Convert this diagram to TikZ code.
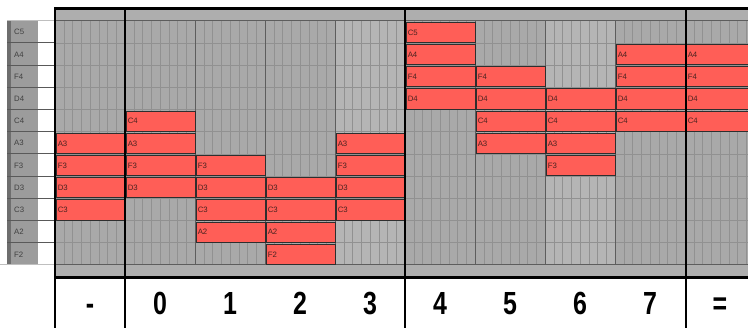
\documentclass[tikz,border=0pt]{standalone}
\usepackage{fontspec}
\setmainfont{Liberation Sans}
\newfontfamily\numfont[FakeStretch=0.78]{Liberation Sans}
\usetikzlibrary{positioning}
\definecolor{noteRed}{HTML}{FF5E57}
\definecolor{noteText}{HTML}{4A2320}
\definecolor{laneDark}{HTML}{A9A9A9}
\definecolor{laneLight}{HTML}{B5B5B5}
\definecolor{stripGray}{HTML}{AEAEAE}
\definecolor{keyGray}{HTML}{9C9C9C}
\definecolor{keyDark}{HTML}{6E6E6E}
\newcommand\notename[1]{\ifcase#1 C5\or A4\or F4\or D4\or C4\or A3\or F3\or D3\or C3\or A2\or F2\fi}

\begin{document}
\begin{tikzpicture}[x=1pt,y=-1pt,font=\fontsize{7.8}{8}\selectfont,
  note/.style={draw=black!82,line width=.9pt,fill=noteRed,text=noteText,anchor=north west,
    minimum width=69pt,minimum height=20.3pt,inner xsep=1.5pt,inner ysep=0pt,text width=66pt,align=left},
  keylabel/.style={anchor=west,inner sep=0pt,text=black!75},
  digit/.style={anchor=base,inner sep=0pt,font=\numfont\bfseries\fontsize{32}{32}\selectfont},
  subline/.style={black!14!laneDark,line width=.5pt},
  rowline/.style={black!14!laneDark,line width=.7pt},
  barline/.style={black!45!laneDark,line width=.8pt},
  rule/.style={black,line width=2.6pt}]
\useasboundingbox[fill=white] (0,0) rectangle (748,328);
% lanes and grid
\foreach \c/\bg in {0/laneDark,1/laneDark,2/laneDark,3/laneDark,4/laneLight,5/laneDark,6/laneDark,7/laneLight,8/laneDark,9/laneDark}{
\fill[\bg] (55+70*\c,20.7) rectangle ++(70,244.2);
\foreach \s in {1,...,7}
  \draw[subline] (55+70*\c+8.75*\s,20.7) -- ++(0,244.2);
}
\foreach \r in {1,...,10}
  \draw[rowline] (55,20.7+22.2*\r) -- (748,20.7+22.2*\r);
\foreach \c in {2,3,4,6,7,8}
  \draw[barline] (55+70*\c,20.7) -- ++(0,244.2);
% header and footer strips
\fill[stripGray] (55,8.5) rectangle (748,20.7);
\draw[barline] (55,20.7) -- (748,20.7);
\fill[stripGray] (55,264.9) rectangle (748,277.5);
\draw[barline] (55,264.9) -- (748,264.9);
% chords: column / top row
\foreach \c/\t in {0/5,1/4,2/6,3/7,4/5,5/0,6/2,7/3,8/1,9/1}
  \foreach \k in {0,...,3}{
    \pgfmathtruncatemacro\r{\t+\k}
    \node[note] (n\c-\r) at (55.8+70*\c,20.7+22.2*\r+1.1) {\notename{\r}};
  }
% keys
\fill[keyDark] (7,20.7) rectangle (11,264.9);
\fill[keyGray] (11,20.7) rectangle (38,264.9);
\draw[black!25,line width=.8pt] (7,20.7) -- (55,20.7);
\draw[black!25,line width=.8pt] (0,264.9) -- (55,264.9);
\foreach \r in {1,...,10}
  \draw[black!65,line width=.8pt] (7,20.7+22.2*\r) -- (55,20.7+22.2*\r);
\foreach \r in {0,...,10}
  \node[keylabel] (k\r) at (14,20.7+22.2*\r+11.6) {\notename{\r}};
% rules
\draw[rule] (55,8.5) -- (748,8.5);
\draw[rule] (55,277.5) -- (748,277.5);
\foreach \x in {55,125,405,686}
  \draw[rule] (\x,7.2) -- (\x,328);
% chord numbers
\foreach \c/\d in {0/-,1/0,2/1,3/2,4/3,5/4,6/5,7/6,8/7,9/=}
  \node[digit] (d\c) at (90+70*\c,315) {\d};
\end{tikzpicture}
\end{document}
